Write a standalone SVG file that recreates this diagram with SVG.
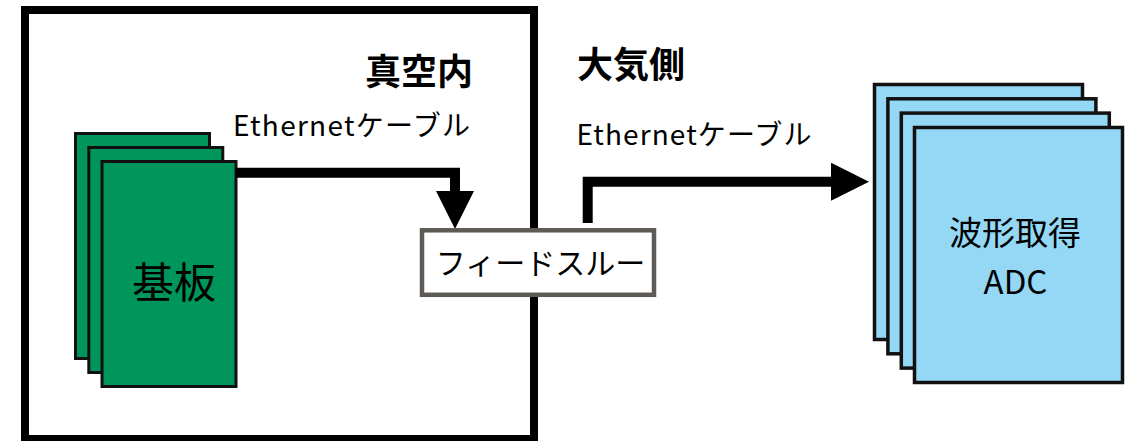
<svg xmlns="http://www.w3.org/2000/svg" width="1135" height="441" viewBox="0 0 1135 441">
  <style>
    text { font-family: "Noto Sans CJK JP", "Noto Sans", sans-serif; fill: #000; }
    .title { font-size: 36px; font-weight: bold; }
    .cable { font-size: 28px; }
    .board { fill: #00955a; stroke: #111; stroke-width: 3; }
    .adc { fill: #94d8f6; stroke: #111; stroke-width: 3.5; }
    .wire { fill: none; stroke: #000; stroke-width: 10; stroke-linejoin: miter; stroke-linecap: butt; }
  </style>
  <defs>
    <marker id="head" markerUnits="userSpaceOnUse" markerWidth="38" markerHeight="38"
            viewBox="0 0 38 38" refX="0" refY="19" orient="auto">
      <path d="M0,0 L38,19 L0,38 Z" fill="#000"/>
    </marker>
  </defs>

  <rect width="1135" height="441" fill="#fff"/>

  <!-- vacuum chamber outline -->
  <g id="chamber">
    <rect x="25" y="10" width="509" height="429" fill="none" stroke="#000" stroke-width="8"/>
    <text class="title" x="365" y="85">真空内</text>
  </g>

  <text id="atmosphere" class="title" x="577" y="78">大気側</text>

  <!-- readout boards (stack of three) -->
  <g id="boards">
    <rect class="board" x="75.5" y="133.5" width="134" height="225"/>
    <rect class="board" x="88.8" y="147.5" width="134" height="225"/>
    <rect class="board" x="102" y="161.5" width="134" height="225"/>
    <text x="174" y="298" font-size="42" text-anchor="middle">基板</text>
  </g>

  <!-- cables -->
  <g id="connectors">
    <path class="wire" d="M236,172.7 H455 V191" marker-end="url(#head)"/>
    <text class="cable" x="233" y="136" textLength="237" lengthAdjust="spacing">Ethernetケーブル</text>
    <path class="wire" d="M587.7,223 V181.7 H831" marker-end="url(#head)"/>
    <text class="cable" x="576.5" y="145" textLength="235" lengthAdjust="spacing">Ethernetケーブル</text>
  </g>

  <!-- feedthrough on the chamber wall -->
  <g id="feedthrough">
    <rect x="422" y="230.3" width="232" height="64.5" fill="#fff" stroke="#5e5a56" stroke-width="4.5"/>
    <text x="540.5" y="274" font-size="30" text-anchor="middle">フィードスルー</text>
  </g>

  <!-- waveform digitizers (stack of four) -->
  <g id="adc">
    <rect class="adc" x="874.5" y="84.5" width="208" height="255"/>
    <rect class="adc" x="887.9" y="98.8" width="208" height="255"/>
    <rect class="adc" x="901.3" y="113.1" width="208" height="255"/>
    <rect class="adc" x="914.5" y="127.5" width="208" height="255"/>
    <text x="1015" y="245" font-size="33" text-anchor="middle">波形取得</text>
    <text x="1015.5" y="294" font-size="33" text-anchor="middle">ADC</text>
  </g>
</svg>
